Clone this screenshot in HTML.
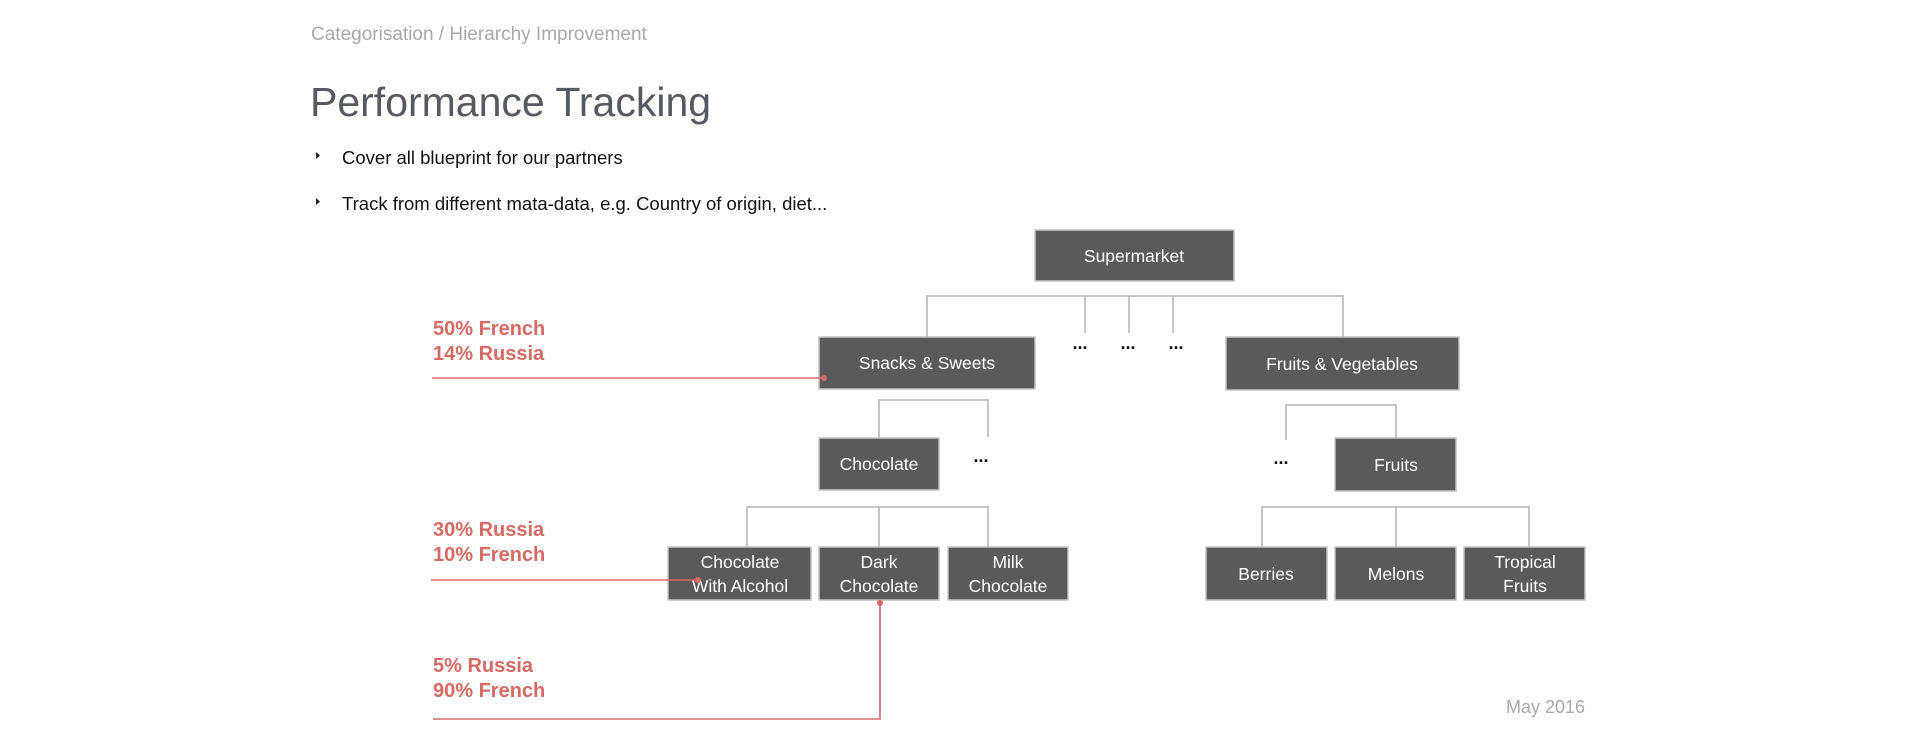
<!DOCTYPE html>
<html><head><meta charset="utf-8"><style>
html,body{margin:0;padding:0;background:#fff;}
body{width:1920px;height:751px;overflow:hidden;position:relative;font-family:"Liberation Sans",Arial,sans-serif;}
</style></head><body>
<svg width="1920" height="751" xmlns="http://www.w3.org/2000/svg" style="position:absolute;left:0;top:0;font-family:'Liberation Sans',Arial,sans-serif">
<text x="311" y="40" font-size="19" fill="#a9a9a9">Categorisation / Hierarchy Improvement</text>
<text x="310" y="116" font-size="41" fill="#565a60">Performance Tracking</text>
<polygon points="316,152 320,155.5 316,159" fill="#222"/>
<text x="342" y="164" font-size="18.5" fill="#111">Cover all blueprint for our partners</text>
<polygon points="316,198 320,201.5 316,205" fill="#222"/>
<text x="342" y="210" font-size="18.5" fill="#111">Track from different mata-data, e.g. Country of origin, diet...</text>

<g stroke="#b3b3b3" stroke-width="1.5" fill="none">
<path d="M927,337 V296 H1343 V337"/>
<path d="M1129,296 V333 M1085,296 V333 M1173,296 V333"/>
<path d="M879,438 V400 H988 V437"/>
<path d="M1286,440 V405 H1396 V438"/>
<path d="M747,547 V507 H988 V547 M879,507 V547"/>
<path d="M1262,547 V507 H1529 V547 M1396,507 V547"/>
</g>

<g fill="#5a5a5a" stroke="#c4c4c4" stroke-width="1.5">
<rect x="1035" y="230" width="199" height="51"/>
<rect x="819" y="337" width="216" height="52"/>
<rect x="1226" y="337" width="233" height="53"/>
<rect x="819" y="438" width="120" height="52"/>
<rect x="1335" y="438" width="121" height="53"/>
<rect x="668" y="547" width="143" height="53"/>
<rect x="819" y="547" width="120" height="53"/>
<rect x="948" y="547" width="120" height="53"/>
<rect x="1206" y="547" width="121" height="53"/>
<rect x="1335" y="547" width="121" height="53"/>
<rect x="1464" y="547" width="121" height="53"/>
</g>

<g fill="#fff" font-size="17.5" text-anchor="middle">
<text x="1134" y="262">Supermarket</text>
<text x="927" y="369">Snacks &amp; Sweets</text>
<text x="1342" y="370">Fruits &amp; Vegetables</text>
<text x="879" y="470">Chocolate</text>
<text x="1396" y="471">Fruits</text>
<text x="740" y="568">Chocolate</text><text x="740" y="592">With Alcohol</text>
<text x="879" y="568">Dark</text><text x="879" y="592">Chocolate</text>
<text x="1008" y="568">Milk</text><text x="1008" y="592">Chocolate</text>
<text x="1266" y="580">Berries</text>
<text x="1396" y="580">Melons</text>
<text x="1525" y="568">Tropical</text><text x="1525" y="592">Fruits</text>
</g>

<g fill="#111" font-size="18" font-weight="bold" text-anchor="middle">
<text x="1080" y="349">...</text><text x="1128" y="349">...</text><text x="1176" y="349">...</text>
<text x="981" y="462">...</text>
<text x="1281" y="464">...</text>
</g>

<g fill="#d66b66" font-size="20" font-weight="bold">
<text x="433" y="335">50% French</text><text x="433" y="360">14% Russia</text>
<text x="433" y="536">30% Russia</text><text x="433" y="561">10% French</text>
<text x="433" y="672">5% Russia</text><text x="433" y="697">90% French</text>
</g>
<g stroke="#d66b66" stroke-width="1.6" fill="none">
<path d="M432,378 H824"/>
<path d="M431,580 H698"/>
<path d="M433,719 H880 V603"/>
</g>
<g fill="#d66b66">
<circle cx="824" cy="378" r="3"/>
<circle cx="698" cy="580" r="3"/>
<circle cx="880" cy="603" r="3"/>
</g>

<text x="1506" y="713" font-size="18" fill="#a9a9a9">May 2016</text>
</svg>
</body></html>
